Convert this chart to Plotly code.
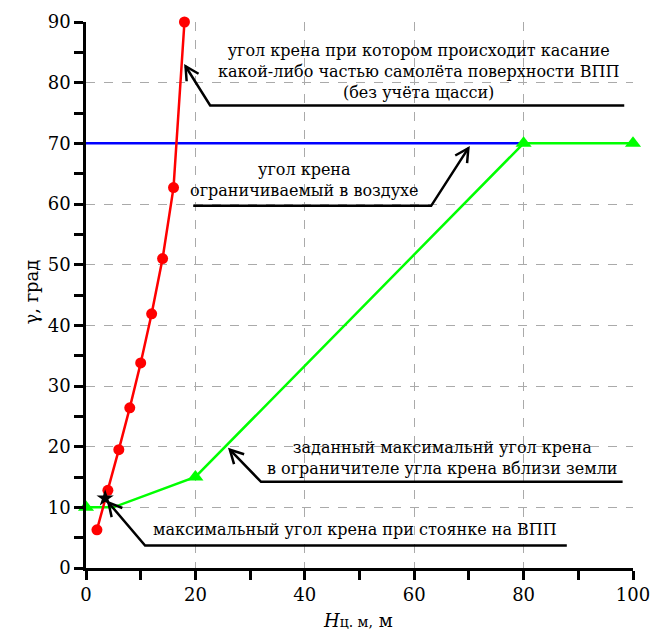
import math
import plotly.graph_objects as go

# ---- data ----
red_x = [2, 4, 6, 8, 10, 12, 14, 16, 18]
red_y = [6.3, 12.8, 19.5, 26.4, 33.8, 41.9, 51.0, 62.7, 90]

green_x = [0, 5, 20, 80, 100]
green_y = [10, 10, 15, 70, 70]
green_marker_opacity = [1, 0, 1, 1, 1]

blue_x = [0, 80]
blue_y = [70, 70]

star_x = [3.5]
star_y = [11.5]

x_ticks = [0, 20, 40, 60, 80, 100]
y_ticks = [0, 10, 20, 30, 40, 50, 60, 70, 80, 90]

# annotations: text, text position, leader start x, elbow (x,y), tip (x,y)
notes = [
    dict(text="угол крена при котором происходит касание<br>какой-либо частью самолёта поверхности ВПП<br>(без учёта щасси)",
         tx=60.8, ty=81.8, x_end=98.4, elbow=(22.7, 76.25), tip=(18.2, 82.7)),
    dict(text="угол крена<br>ограничиваемый в воздухе",
         tx=40, ty=63.9, x_end=19.6, elbow=(63.1, 59.7), tip=(69.9, 69.2)),
    dict(text="заданный максимальнй угол крена<br>в ограничителе угла крена вблизи земли",
         tx=65.2, ty=18.2, x_end=98.1, elbow=(32.0, 14.2), tip=(26.3, 19.5)),
    dict(text="максимальный угол крена при стоянке на ВПП",
         tx=49.2, ty=6.35, x_end=87.9, elbow=(10.8, 3.7), tip=(4.1, 10.8)),
]

X_RANGE = [0, 100]
Y_RANGE = [0, 90]
W, H = 651, 634
ML, MR, MT, MB = 86, 18, 22, 66
PW, PH = W - ML - MR, H - MT - MB
sx = PW / (X_RANGE[1] - X_RANGE[0])
sy = PH / (Y_RANGE[1] - Y_RANGE[0])

FONT = "DejaVu Serif"

fig = go.Figure()

fig.add_trace(go.Scatter(x=blue_x, y=blue_y, mode="lines",
                         line=dict(color="#0000ff", width=2.5), cliponaxis=False,
                         showlegend=False, hoverinfo="skip"))
fig.add_trace(go.Scatter(x=green_x, y=green_y, mode="lines+markers",
                         line=dict(color="#00ff00", width=2.5),
                         marker=dict(symbol="triangle-up", size=14, color="#00ff00",
                                     opacity=green_marker_opacity),
                         cliponaxis=False, showlegend=False, hoverinfo="skip"))
fig.add_trace(go.Scatter(x=red_x, y=red_y, mode="lines+markers",
                         line=dict(color="#ff0000", width=2.5),
                         marker=dict(symbol="circle", size=11, color="#ff0000"),
                         cliponaxis=False, showlegend=False, hoverinfo="skip"))
fig.add_trace(go.Scatter(x=star_x, y=star_y, mode="markers",
                         marker=dict(symbol="star", size=13, color="black"),
                         cliponaxis=False, showlegend=False, hoverinfo="skip"))

shapes = []
annotations = []
for n in notes:
    ex, ey = n["elbow"]
    tx, ty = n["tip"]
    shapes.append(dict(type="path", xref="x", yref="y",
                       path=f"M{n['x_end']},{ey} L{ex},{ey} L{tx},{ty}",
                       line=dict(color="black", width=2.5)))
    # open V arrowhead computed in pixel space
    dx = (tx - ex) * sx
    dy = (ty - ey) * sy
    L = math.hypot(dx, dy)
    ux, uy = dx / L, dy / L
    hl = 15
    ang = math.radians(28)
    wings = []
    for s in (1, -1):
        c, si = math.cos(s * ang), math.sin(s * ang)
        rx = ux * c - uy * si
        ry = ux * si + uy * c
        wings.append((tx - hl * rx / sx, ty - hl * ry / sy))
    shapes.append(dict(type="path", xref="x", yref="y",
                       path=f"M{wings[0][0]},{wings[0][1]} L{tx},{ty} L{wings[1][0]},{wings[1][1]}",
                       line=dict(color="black", width=2.5)))
    annotations.append(dict(x=n["tx"], y=n["ty"], xref="x", yref="y", text=n["text"],
                            showarrow=False, font=dict(family=FONT, size=16, color="black"),
                            align="center", xanchor="center", yanchor="middle"))

annotations.append(dict(x=-0.1, y=0.505, xref="paper", yref="paper", text="γ, град",
                        textangle=-90, showarrow=False, xanchor="center", yanchor="middle",
                        font=dict(family=FONT, size=18, color="black")))
annotations.append(dict(x=0.497, y=-0.1195, xref="paper", yref="paper",
                        text="<i>H</i><span style='font-size:14px'>ц. м,</span> м",
                        showarrow=False, yanchor="bottom",
                        font=dict(family=FONT, size=18, color="black")))

axis_common = dict(showline=True, linecolor="black", linewidth=2.5,
                   ticks="outside", ticklen=9, tickwidth=2.5, tickcolor="black",
                   showgrid=True, gridcolor="#aaaaaa", griddash="dash", gridwidth=1,
                   zeroline=False, tickfont=dict(family=FONT, size=18, color="black"),
                   ticklabeloverflow="allow", automargin=False, mirror=False)

fig.update_xaxes(range=X_RANGE, tickvals=x_ticks, ticktext=[str(v) for v in x_ticks],
                 minor=dict(tickvals=[10, 30, 50, 70, 90], ticks="outside", ticklen=9,
                            tickwidth=2.5, tickcolor="black", showgrid=False),
                 **axis_common)
fig.update_yaxes(range=Y_RANGE, tickvals=y_ticks, ticktext=[str(v) for v in y_ticks],
                 minor=dict(tickvals=list(range(5, 90, 10)), ticks="outside", ticklen=9,
                            tickwidth=2.5, tickcolor="black", showgrid=False),
                 **axis_common)

fig.update_layout(width=W, height=H, margin=dict(l=ML, r=MR, t=MT, b=MB),
                  plot_bgcolor="white", paper_bgcolor="white",
                  shapes=shapes, annotations=annotations,
                  font=dict(family=FONT))

fig.write_html("out.html")
